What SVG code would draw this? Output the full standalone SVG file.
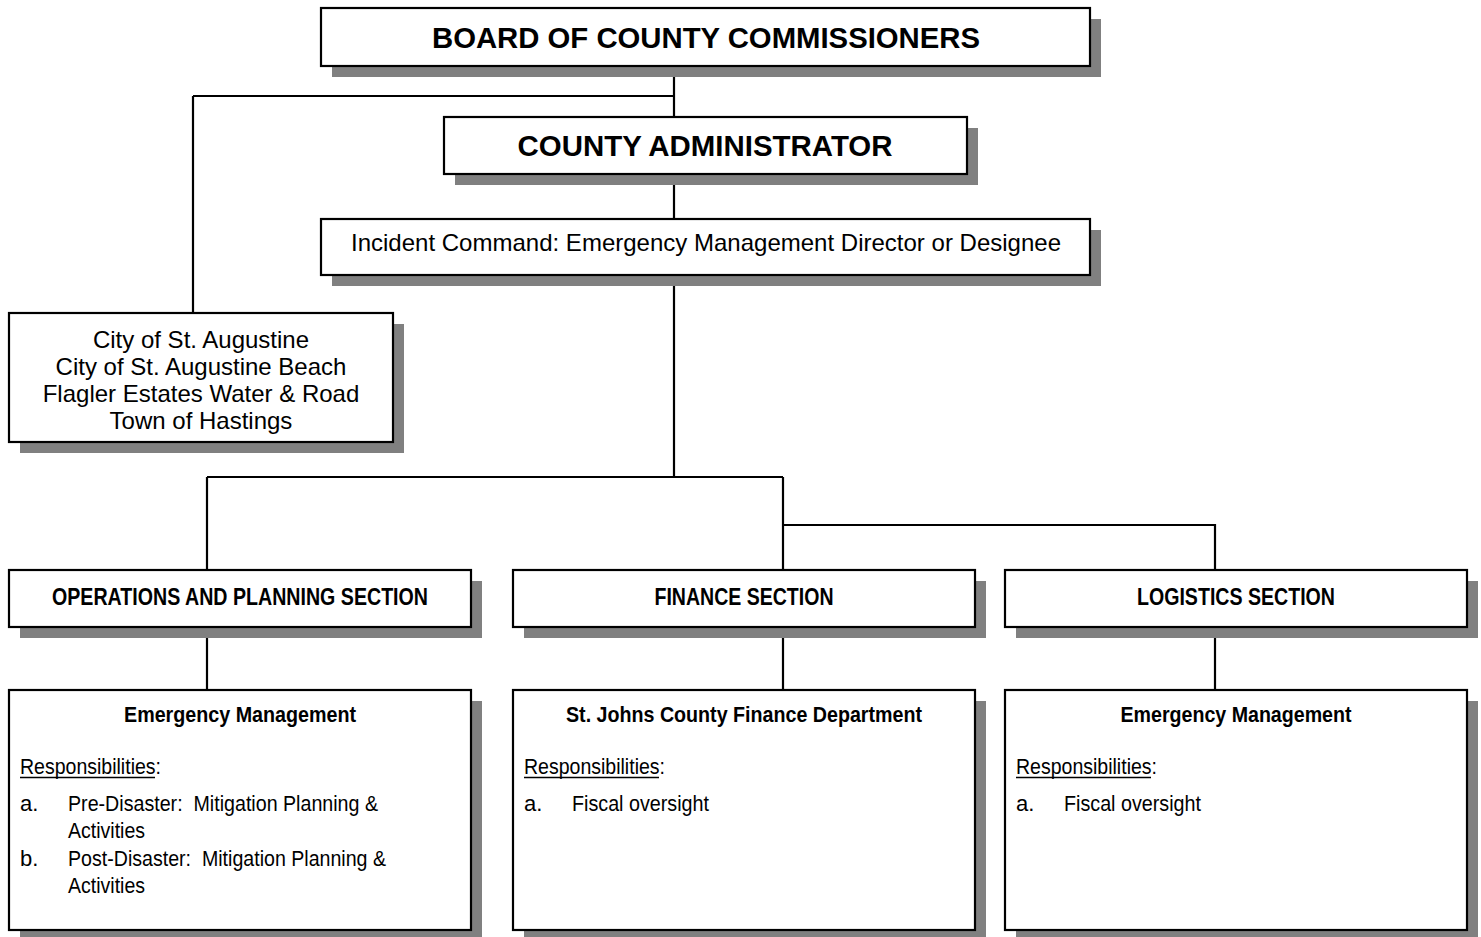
<svg xmlns="http://www.w3.org/2000/svg" width="1481" height="937" viewBox="0 0 1481 937">
<style>
.sh{fill:#808080}
.bx{fill:#fff;stroke:#000;stroke-width:2.2}
.ln{fill:none;stroke:#000;stroke-width:2.2}
.ul{stroke:#000;stroke-width:1.6}
text{font-family:"Liberation Sans",Arial,sans-serif;fill:#000}
.big{font-size:29px;font-weight:bold;text-anchor:middle}
.mid{font-size:24px;text-anchor:middle}
.sec{font-size:23px;font-weight:bold;text-anchor:middle}
.hd{font-size:22px;font-weight:bold;text-anchor:middle}
.bd{font-size:22px;white-space:pre}
</style>
<rect width="1481" height="937" fill="#fff"/>
<g id="connectors">
<path class="ln" d="M674 66V118M193 96H674M193 96V313M674 175V220M674 275V477M207 477H783M207 477V570M783 477V570M783 525H1215V570M207 627V690M783 627V690M1215 627V690"/>
</g>
<g id="board">
<rect class="sh" x="332" y="19" width="769" height="58"/>
<rect class="bx" x="321" y="8" width="769" height="58"/>
<text class="big" x="706" y="48" textLength="548" lengthAdjust="spacingAndGlyphs">BOARD OF COUNTY COMMISSIONERS</text>
</g>
<g id="admin">
<rect class="sh" x="455" y="128" width="523" height="57"/>
<rect class="bx" x="444" y="117" width="523" height="57"/>
<text class="big" x="705" y="156" textLength="375" lengthAdjust="spacingAndGlyphs">COUNTY ADMINISTRATOR</text>
</g>
<g id="incident">
<rect class="sh" x="332" y="230" width="769" height="56"/>
<rect class="bx" x="321" y="219" width="769" height="56"/>
<text class="mid" x="706" y="251" textLength="710" lengthAdjust="spacingAndGlyphs">Incident Command: Emergency Management Director or Designee</text>
</g>
<g id="cities">
<rect class="sh" x="20" y="324" width="384" height="129"/>
<rect class="bx" x="9" y="313" width="384" height="129"/>
<text class="mid" x="201" y="348">City of St. Augustine</text>
<text class="mid" x="201" y="375">City of St. Augustine Beach</text>
<text class="mid" x="201" y="402">Flagler Estates Water &amp; Road</text>
<text class="mid" x="201" y="429">Town of Hastings</text>
</g>
<g id="ops-section">
<rect class="sh" x="20" y="581" width="462" height="57"/>
<rect class="bx" x="9" y="570" width="462" height="57"/>
<text class="sec" x="240" y="605" textLength="376" lengthAdjust="spacingAndGlyphs">OPERATIONS AND PLANNING SECTION</text>
</g>
<g id="finance-section">
<rect class="sh" x="524" y="581" width="462" height="57"/>
<rect class="bx" x="513" y="570" width="462" height="57"/>
<text class="sec" x="744" y="605" textLength="179" lengthAdjust="spacingAndGlyphs">FINANCE SECTION</text>
</g>
<g id="logistics-section">
<rect class="sh" x="1016" y="581" width="462" height="57"/>
<rect class="bx" x="1005" y="570" width="462" height="57"/>
<text class="sec" x="1236" y="605" textLength="198" lengthAdjust="spacingAndGlyphs">LOGISTICS SECTION</text>
</g>
<g id="ops-detail">
<rect class="sh" x="20" y="701" width="462" height="241"/>
<rect class="bx" x="9" y="690" width="462" height="240"/>
<text class="hd" x="240" y="722" textLength="232" lengthAdjust="spacingAndGlyphs">Emergency Management</text>
<text class="bd" x="20" y="774" textLength="141" lengthAdjust="spacingAndGlyphs">Responsibilities:</text>
<line class="ul" x1="20" y1="777.5" x2="155" y2="777.5"/>
<text class="bd" x="20" y="811">a.</text>
<text class="bd" x="68" y="811" textLength="310" lengthAdjust="spacingAndGlyphs">Pre-Disaster:  Mitigation Planning &amp;</text>
<text class="bd" x="68" y="838" textLength="77" lengthAdjust="spacingAndGlyphs">Activities</text>
<text class="bd" x="20" y="866">b.</text>
<text class="bd" x="68" y="866" textLength="318" lengthAdjust="spacingAndGlyphs">Post-Disaster:  Mitigation Planning &amp;</text>
<text class="bd" x="68" y="893" textLength="77" lengthAdjust="spacingAndGlyphs">Activities</text>
</g>
<g id="finance-detail">
<rect class="sh" x="524" y="701" width="462" height="241"/>
<rect class="bx" x="513" y="690" width="462" height="240"/>
<text class="hd" x="744" y="722" textLength="356" lengthAdjust="spacingAndGlyphs">St. Johns County Finance Department</text>
<text class="bd" x="524" y="774" textLength="141" lengthAdjust="spacingAndGlyphs">Responsibilities:</text>
<line class="ul" x1="524" y1="777.5" x2="659" y2="777.5"/>
<text class="bd" x="524" y="811">a.</text>
<text class="bd" x="572" y="811" textLength="137" lengthAdjust="spacingAndGlyphs">Fiscal oversight</text>
</g>
<g id="logistics-detail">
<rect class="sh" x="1016" y="701" width="462" height="241"/>
<rect class="bx" x="1005" y="690" width="462" height="240"/>
<text class="hd" x="1236" y="722" textLength="231" lengthAdjust="spacingAndGlyphs">Emergency Management</text>
<text class="bd" x="1016" y="774" textLength="141" lengthAdjust="spacingAndGlyphs">Responsibilities:</text>
<line class="ul" x1="1016" y1="777.5" x2="1151" y2="777.5"/>
<text class="bd" x="1016" y="811">a.</text>
<text class="bd" x="1064" y="811" textLength="137" lengthAdjust="spacingAndGlyphs">Fiscal oversight</text>
</g>
</svg>
